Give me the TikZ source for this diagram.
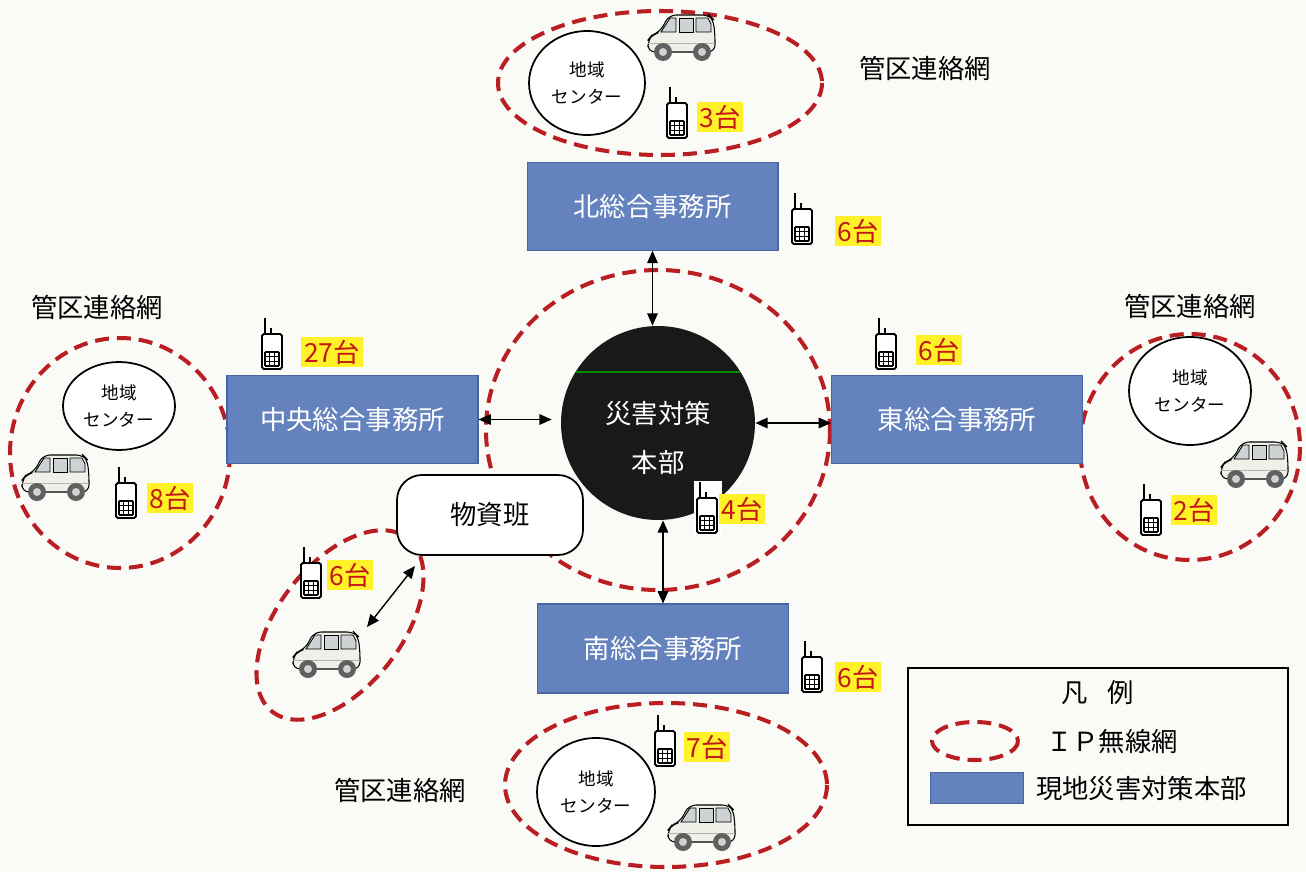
\documentclass[tikz,border=0pt]{standalone}
\usepackage{fontspec}
\setmainfont{Noto Sans CJK JP}
\usetikzlibrary{arrows.meta,shapes.geometric}

\definecolor{paper}{RGB}{250,250,246}
\definecolor{ipred}{RGB}{185,30,35}
\definecolor{hqblue}{RGB}{100,131,190}
\definecolor{hqedge}{RGB}{72,102,162}
\definecolor{marker}{RGB}{255,242,40}
\definecolor{numred}{RGB}{195,25,20}
\definecolor{vanbody}{RGB}{240,240,232}
\definecolor{vanglass}{RGB}{205,210,212}

\tikzset{
  ipnet/.style={draw=ipred, line width=2.3pt, dash pattern=on 8pt off 4.5pt},
  office/.style={draw=hqedge, fill=hqblue, line width=0.6pt, text=white,
    minimum width=5.02cm, minimum height=1.75cm, font=\fontsize{15}{18}\selectfont},
  hq/.style={circle, fill=black!90, minimum size=3.88cm, inner sep=0pt},
  hqtext/.style={text=white, align=center, font=\fontsize{15}{28}\selectfont},
  supply/.style={draw, line width=1pt, fill=white, rounded corners=0.5cm,
    minimum width=3.72cm, minimum height=1.6cm, font=\fontsize{15}{18}\selectfont},
  areactr/.style={ellipse, draw, line width=1pt, fill=white, align=center,
    inner sep=0pt, font=\fontsize{10}{15}\selectfont},
  tally/.style={fill=marker, text=numred, inner sep=1.6pt, font=\fontsize{15}{18}\selectfont},
  netname/.style={font=\fontsize{15}{18}\selectfont},
  link/.style={{Triangle[length=7pt,width=6pt]}-{Triangle[length=7pt,width=6pt]}, line width=0.8pt},
  % handheld radio, drawn around its centre
  radio/.pic={
    \draw[line width=1.2pt] (-7,-25) -- (-7,-9);
    \draw[line width=1.2pt] (-1,-15) -- (-1,-9);
    \draw[line width=1.1pt, fill=white, rounded corners=1pt] (-10,-9) rectangle (10,26);
    \foreach \k in {0,...,3} {
      \draw[line width=0.6pt] (-7+4.67*\k,9) -- ++(0,14);
      \draw[line width=0.6pt] (-7,9+4.67*\k) -- ++(14,0);
    }
  },
  % small van, front to the left
  van/.pic={
    \draw[line width=0.6pt, fill=vanbody, rounded corners=4pt]
      (-34,14) -- (-34,2) -- (-30,-3) -- (-22,-6) -- (-13,-23) -- (27,-23)
      -- (31,-19) -- (33,-4) -- (33,14) -- cycle;
    \draw[line width=0.5pt, fill=vanglass] (-21,-6) -- (-12,-20) -- (-6,-20) -- (-6,-6) -- cycle;
    \draw[line width=0.5pt, fill=vanglass] (-3,-20) rectangle (11,-6);
    \draw[line width=0.5pt, fill=vanglass] (14,-20) -- (26,-20) -- (29,-14) -- (29,-6) -- (14,-6) -- cycle;
    \draw[gray!60, line width=0.5pt] (-34,5) -- (33,5);
    \foreach \w in {-19,20} {
      \fill[gray!75!black] (\w,14) circle (9);
      \fill[gray!35] (\w,14) circle (4);
    }
  }
}

\begin{document}
\begin{tikzpicture}[x=0.02cm, y=-0.02cm]
\useasboundingbox (0,0) rectangle (1306,872);
\fill[paper] (0,0) rectangle (1306,872);

% IP radio networks
\draw[ipnet] (660,83) ellipse [x radius=162, y radius=72];
\draw[ipnet] (120,453) ellipse [x radius=110, y radius=115];
\draw[ipnet] (1190,447) ellipse [x radius=110, y radius=113];
\draw[ipnet] (666,785) ellipse [x radius=161, y radius=82];
\draw[ipnet] (658,430) ellipse [x radius=172, y radius=160];
\draw[ipnet, rotate around={52:(340,625)}] (340,625) ellipse [x radius=110, y radius=62];

% branch offices
\node[office] (north) at (652.5,206.5) {北総合事務所};
\node[office] (west) at (352.5,419.5) {中央総合事務所};
\node[office] (east) at (957,419.5) {東総合事務所};
\node[office, minimum height=1.78cm] (south) at (663,648.5) {南総合事務所};

% headquarters
\node[hq] (hq) at (658,423) {};
\draw[green!55!black, line width=0.8pt] (576,372) -- (740,372);
\node[hqtext] (hqname) at (658,438) {災害対策\\本部};

\node[supply] (supply) at (490,515) {物資班};

% area centres
\node[areactr, minimum width=2.32cm, minimum height=2.08cm] (ctrN) at (587,83) {地域\\センター};
\node[areactr, minimum width=2.24cm, minimum height=1.76cm] (ctrW) at (119,406) {地域\\センター};
\node[areactr, minimum width=2.44cm, minimum height=2.16cm] (ctrE) at (1190,391) {地域\\センター};
\node[areactr, minimum width=2.36cm, minimum height=2.16cm] (ctrS) at (596,792) {地域\\センター};

% links
\draw[link] (north.south) -- (north.south |- hq.north);
\draw[link, shorten >=0.18cm] (west.east) -- (west.east -| hq.west);
\draw[link] (hq.east) -- (hq.east -| east.west);
\draw[link] (south.north |- hq.south) -- (south.north);
\coordinate (supplyend) at (415,566);
\coordinate (vanend) at (367,627);
\draw[link] (supplyend) -- (vanend);

% vans
\pic (vanN) at (682,38) {van};
\pic (vanW) at (56,478) {van};
\pic (vanE) at (1255,465) {van};
\pic (vanS) at (702,828) {van};
\pic (vanL) at (327,655) {van};

% radios and unit counts
\pic at (677,112) {radio};
\node[tally] (cntN) at (720,117) {3台};
\pic at (802,218) {radio};
\node[tally] (cntNo) at (858,231) {6台};
\pic at (272,343) {radio};
\node[tally] (cntWo) at (332,352) {27台};
\pic at (126,492) {radio};
\node[tally] (cntW) at (170,498) {8台};
\fill[white] (694,481) rectangle (722,534);
\pic at (707,507) {radio};
\node[tally] (cntHQ) at (742,509) {4台};
\pic at (886,343) {radio};
\node[tally] (cntEo) at (939,350) {6台};
\pic at (1151,509) {radio};
\node[tally] (cntE) at (1194,510) {2台};
\pic at (812,666) {radio};
\node[tally] (cntSo) at (858,677) {6台};
\pic at (665,740) {radio};
\node[tally] (cntS) at (707,747) {7台};
\pic at (311,572) {radio};
\node[tally] (cntL) at (350,575) {6台};

% network names
\node[netname] (kanN) at (925,68) {管区連絡網};
\node[netname] (kanW) at (97,307) {管区連絡網};
\node[netname] (kanE) at (1190,306) {管区連絡網};
\node[netname] (kanS) at (400,790) {管区連絡網};

% legend
\draw[line width=1.1pt] (908,668) rectangle (1288,825);
\node[netname] (legtitle) at (1098,693) {凡\hspace{0.75em}例};
\draw[ipnet] (975,741) ellipse [x radius=43, y radius=19];
\node[netname, anchor=west] (legip) at (1040,741) {ＩＰ無線網};
\draw[draw=hqedge, fill=hqblue] (930,772) rectangle (1023,803);
\node[netname, anchor=west] (leghq) at (1030,789) {現地災害対策本部};
\end{tikzpicture}
\end{document}
